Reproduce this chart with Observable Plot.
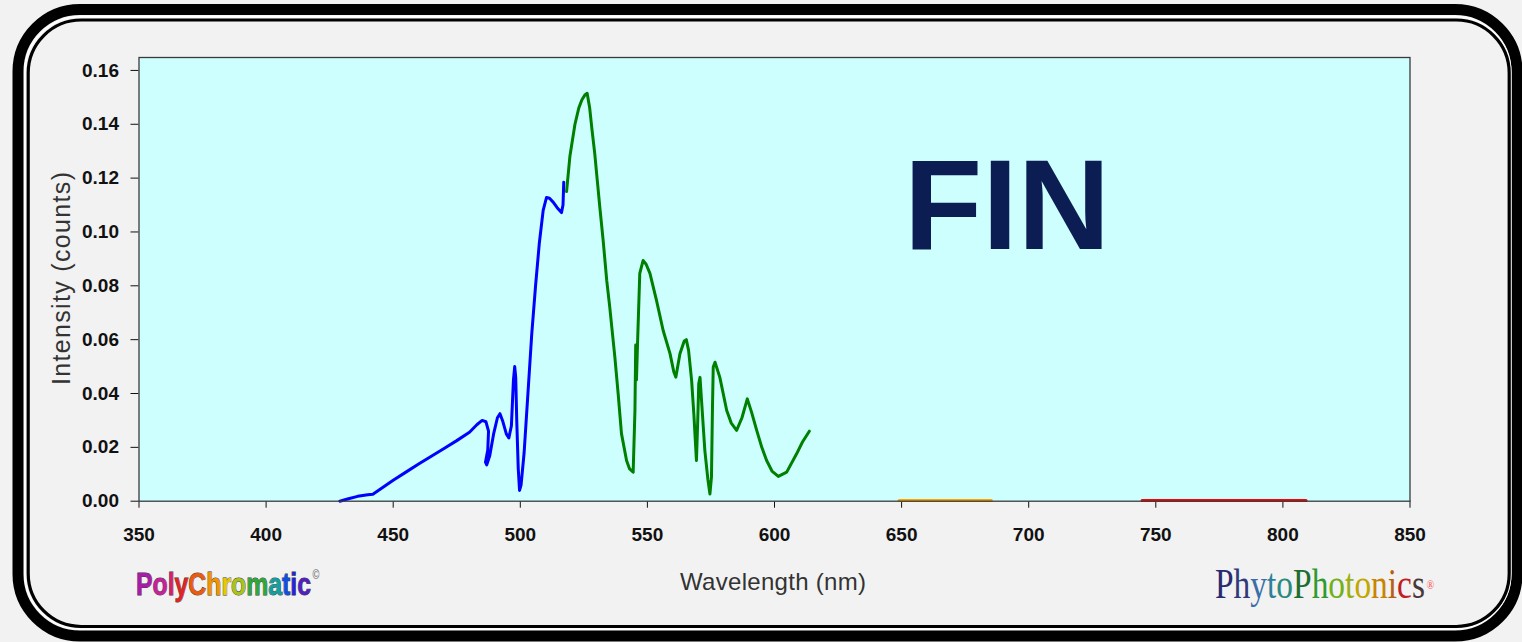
<!DOCTYPE html>
<html>
<head>
<meta charset="utf-8">
<script src="https://cdn.jsdelivr.net/npm/d3@7"></script>
<script src="https://cdn.jsdelivr.net/npm/@observablehq/plot@0.6"></script>
<style>
  body { margin: 0; background: #f2f2f2; }
  #wrap { position: relative; width: 1522px; height: 642px; overflow: hidden; background: #f2f2f2; }
  #wrap > svg { position: absolute; left: 0; top: 0; }
</style>
</head>
<body>
<div id="wrap"></div>
<script>
// ---- data ----
const blueWl = [429, 432, 436, 440, 442, 446, 450, 455, 460, 465, 470, 475, 480, 483, 485, 486.5, 487.5, 487.2, 486.3, 486.8, 488, 489.5, 491, 492, 493, 494.5, 495.5, 496.5, 497.3, 497.8, 498.2, 498.6, 499.2, 499.7, 500.3, 501.5, 503, 504.5, 506, 507.5, 509, 510.3, 511.5, 513, 514.5, 516.2, 516.8, 517.1];
const blueVal = [0, 0.0008, 0.0018, 0.0024, 0.0026, 0.0052, 0.0078, 0.0108, 0.0138, 0.0167, 0.0196, 0.0225, 0.0256, 0.0285, 0.0300, 0.0295, 0.026, 0.019, 0.0145, 0.0135, 0.017, 0.025, 0.031, 0.0325, 0.030, 0.025, 0.0235, 0.028, 0.045, 0.050, 0.046, 0.030, 0.012, 0.004, 0.006, 0.018, 0.040, 0.062, 0.080, 0.096, 0.108, 0.1128, 0.1125, 0.111, 0.109, 0.1072, 0.110, 0.1185];

const greenWl = [518.2, 519.5, 521.5, 523, 524.2, 525.5, 526.3, 527.3, 528.2, 529.3, 530.3, 531.3, 532.6, 534, 535.2, 537.2, 538.5, 539.8, 541.8, 543, 544.4, 545.1, 545.4, 545.7, 546.2, 547, 548.3, 549.5, 551, 553.6, 556.2, 558.9, 560.4, 561.2, 562.8, 564.5, 565.3, 566.2, 567.4, 568.3, 568.7, 569.3, 569.8, 570.2, 570.7, 571.3, 572.6, 573.8, 574.6, 575.2, 575.6, 575.9, 576.6, 578.5, 581.2, 583, 585.1, 587.2, 589.3, 591, 593, 595, 596.9, 599, 601.5, 604.8, 608.7, 611, 613.7];
const greenVal = [0.1150, 0.1280, 0.1400, 0.146, 0.1490, 0.1510, 0.1515, 0.1460, 0.138, 0.1290, 0.119, 0.1090, 0.0968, 0.0820, 0.0720, 0.0535, 0.0399, 0.0251, 0.0151, 0.012, 0.0108, 0.0337, 0.058, 0.045, 0.061, 0.0846, 0.0894, 0.0880, 0.0846, 0.0745, 0.0634, 0.0548, 0.048, 0.0461, 0.0548, 0.0595, 0.060, 0.056, 0.0448, 0.032, 0.0251, 0.0151, 0.030, 0.0437, 0.046, 0.0374, 0.0188, 0.008, 0.0027, 0.0089, 0.035, 0.0498, 0.0516, 0.0460, 0.0337, 0.029, 0.0263, 0.031, 0.0380, 0.033, 0.0263, 0.020, 0.0151, 0.0112, 0.0092, 0.0108, 0.0176, 0.022, 0.0260];

const orangeWl = [649, 685.3];
const orangeVal = [0.0003, 0.0003];

const redWl = [744.6, 809.1];
const redVal = [0.0003, 0.0003];

const seriesNames = ["blue", "green", "orange", "red"];
const seriesColors = ["#0000ff", "#008000", "#e47a12", "#cc0000"];

const xTicks = [350, 400, 450, 500, 550, 600, 650, 700, 750, 800, 850];
const yTicks = [0, 0.02, 0.04, 0.06, 0.08, 0.10, 0.12, 0.14, 0.16];

const polyLetters = ["P","o","l","y","C","h","r","o","m","a","t","i","c"];
const polyColors = ["#a81ca8","#c8209a","#d8206a","#e02424","#ec5a10","#f29400","#e8c800","#a8c418","#30a838","#10a0a0","#1050e0","#2424d8","#5020c0"];
const phytoLetters = ["P","h","y","t","o","P","h","o","t","o","n","i","c","s"];
const phytoColors = ["#2a2a70","#303a78","#3a6ea8","#2e7f9a","#2a8a80","#1d6e30","#2f9a30","#70b018","#98b010","#c0a800","#c88400","#b86010","#c02020","#483838"];

// ---- build table ----
const rows = [];
[[blueWl, blueVal], [greenWl, greenVal], [orangeWl, orangeVal], [redWl, redVal]].forEach(([wl, val], s) => {
  wl.forEach((w, i) => rows.push({series: seriesNames[s], wl: w, v: val[i]}));
});

const W = 1522, H = 642;
const wrap = document.getElementById("wrap");

// background frame (decoration)
const bg = d3.create("svg").attr("width", W).attr("height", H);
bg.append("rect").attr("x", 18).attr("y", 9.5).attr("width", 1499).attr("height", 626.5)
  .attr("rx", 62).attr("fill", "none").attr("stroke", "#000").attr("stroke-width", 11);
bg.append("rect").attr("x", 24.8).attr("y", 16.6).attr("width", 1486).attr("height", 612.6)
  .attr("rx", 56).attr("fill", "none").attr("stroke", "#fff").attr("stroke-width", 1.6);
bg.append("rect").attr("x", 28.2).attr("y", 20).attr("width", 1481).attr("height", 606.5)
  .attr("rx", 53).attr("fill", "none").attr("stroke", "#000").attr("stroke-width", 3.2);
wrap.appendChild(bg.node());

const chart = Plot.plot({
  width: W,
  height: H,
  marginLeft: 138.5,
  marginRight: 112.5,
  marginTop: 57,
  marginBottom: 141.3,
  style: {
    background: "transparent",
    fontFamily: "'Liberation Sans', Arial, sans-serif",
    fontSize: "19px",
    fontWeight: "bold",
    color: "#111"
  },
  x: {domain: [350, 850], ticks: xTicks, tickSize: 7, tickPadding: 19, label: null},
  y: {domain: [0, 0.1648], ticks: yTicks, tickFormat: d3.format(".2f"), tickSize: 8, tickPadding: 12, label: null},
  color: {domain: seriesNames, range: seriesColors},
  marks: [
    Plot.frame({fill: "#ceffff"}),
    Plot.line(rows, {x: "wl", y: "v", z: "series", stroke: "series", strokeWidth: 3, strokeLinejoin: "round"}),
    Plot.frame({stroke: "#3a3a3a", strokeWidth: 1.3})
  ]
});
wrap.appendChild(chart);

// overlay texts
const ov = d3.create("svg").attr("width", W).attr("height", H);
wrap.appendChild(ov.node());

ov.append("text").attr("x", 904).attr("y", 249)
  .attr("font-family", "'Liberation Sans', Arial, sans-serif").attr("font-weight", "bold")
  .attr("font-size", 128).attr("fill", "#0b1d52").text("FIN");

ov.append("text").attr("transform", "translate(70,278.5) rotate(-90)").attr("text-anchor", "middle")
  .attr("font-family", "'Liberation Sans', Arial, sans-serif").attr("font-size", 25)
  .attr("textLength", 213).attr("lengthAdjust", "spacing")
  .attr("fill", "#333").text("Intensity (counts)");

ov.append("text").attr("x", 773).attr("y", 590).attr("text-anchor", "middle")
  .attr("font-family", "'Liberation Sans', Arial, sans-serif").attr("font-size", 24)
  .attr("textLength", 186).attr("lengthAdjust", "spacing")
  .attr("fill", "#333").text("Wavelength (nm)");

// logos: one text each, coloured letters as tspans, squeezed horizontally with a transform
function logo(x, y, letters, colors, mark, markColor, markSize, markRise, width, attrs) {
  const t = ov.append("text");
  Object.entries(attrs).forEach(([k, v]) => t.attr(k, v));
  letters.forEach((c, i) => t.append("tspan").attr("fill", colors[i]).text(c));
  const natural = t.node().getComputedTextLength();
  const sx = natural > 0 ? width / natural : 0.78;
  t.append("tspan").attr("fill", markColor).attr("stroke", "none").attr("font-size", markSize)
    .attr("font-weight", "normal").attr("dx", 2).attr("dy", -markRise).text(mark);
  t.attr("transform", `translate(${x},${y}) scale(${sx},1)`);
}

logo(136, 595, polyLetters, polyColors, "©", "#555", 12, 16, 175, {
  "font-family": "'Liberation Sans', Arial, sans-serif", "font-weight": "bold",
  "font-size": 32, "stroke": "#3a3a3a", "stroke-width": 0.9, "paint-order": "stroke"
});

logo(1215, 598, phytoLetters, phytoColors, "®", "#ff5a5a", 13, 9, 210, {
  "font-family": "'Liberation Serif', 'Times New Roman', serif",
  "font-size": 42
});
</script>
</body>
</html>
